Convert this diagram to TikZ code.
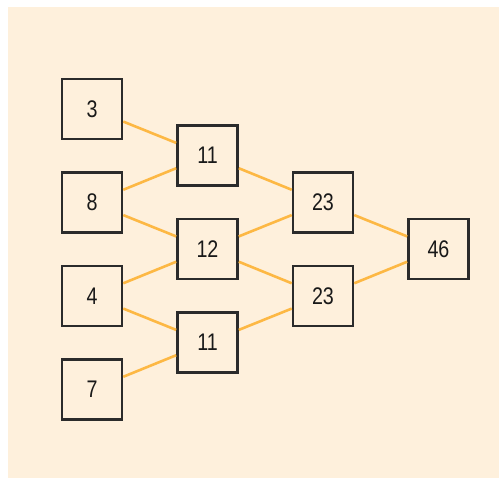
\documentclass[tikz,border=0pt]{standalone}
\usepackage{fontspec}
\setmainfont{Liberation Sans}[FakeStretch=0.82]
\definecolor{paper}{HTML}{FEF0DC}
\definecolor{wire}{HTML}{FDB844}
\definecolor{ink}{HTML}{2B2B2B}
\begin{document}
\begin{tikzpicture}[x=1pt,y=-1pt,
  cell/.style={draw=ink, line width=2.6pt, fill=paper, minimum size=60pt,
    inner sep=0pt, font=\fontsize{24}{24}\selectfont, text=black!90},
  link/.style={draw=wire, line width=2.6pt}]
  \useasboundingbox (0,0) rectangle (499,478);
  \fill[paper] (8,7) rectangle (499,478);
  % leaves
  \node[cell] (a) at (92,109) {3};
  \node[cell] (b) at (92,202.5) {8};
  \node[cell] (c) at (92,296) {4};
  \node[cell] (d) at (92,389.5) {7};
  % second level
  \node[cell] (ab) at (207.5,155.5) {11};
  \node[cell] (bc) at (207.5,249) {12};
  \node[cell] (cd) at (207.5,342.5) {11};
  % third level
  \node[cell] (u) at (323,202.5) {23};
  \node[cell] (v) at (323,296) {23};
  % root
  \node[cell] (r) at (438.5,249) {46};
  % connectors between box borders
  \path[link] (a) -- (ab) (b) -- (ab) (b) -- (bc) (c) -- (bc) (c) -- (cd) (d) -- (cd)
    (ab) -- (u) (bc) -- (u) (bc) -- (v) (cd) -- (v) (u) -- (r) (v) -- (r);
\end{tikzpicture}
\end{document}
